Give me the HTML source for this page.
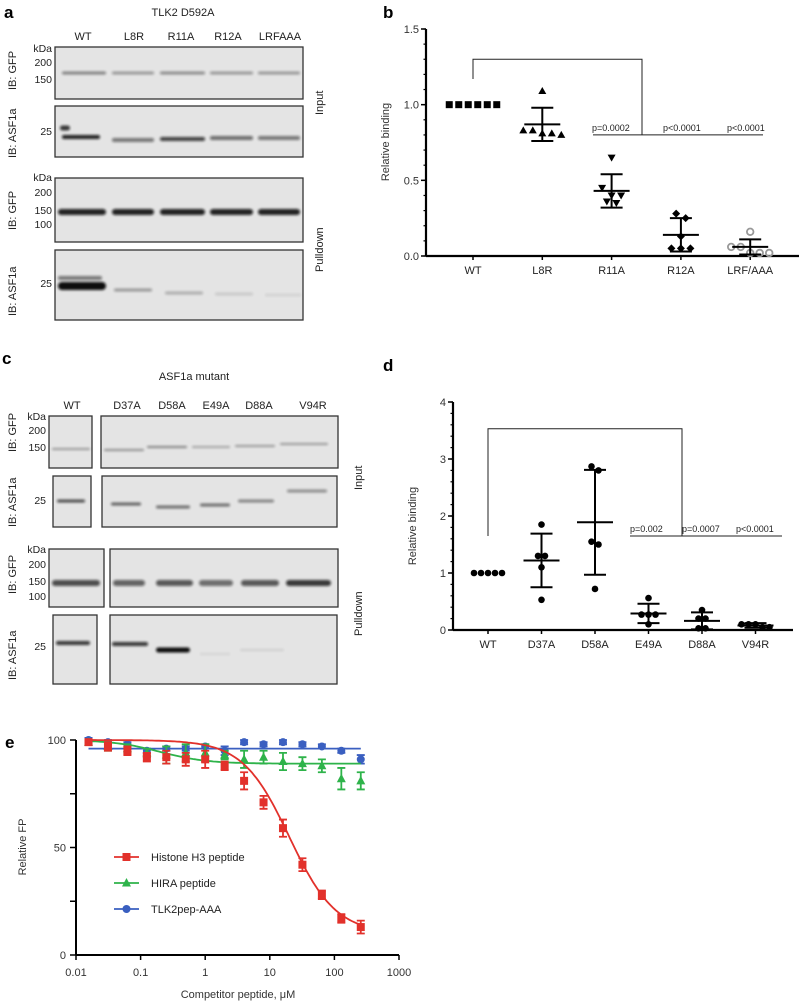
<!DOCTYPE html>
<html><head><meta charset="utf-8">
<style>
html,body{margin:0;padding:0;background:#fff;}
svg{display:block;font-family:"Liberation Sans",Arial,sans-serif;}
</style></head>
<body>
<svg id="fig" width="799" height="1001" viewBox="0 0 799 1001" xmlns="http://www.w3.org/2000/svg">
<defs>
<filter id="blur1" x="-20%" y="-200%" width="140%" height="500%"><feGaussianBlur stdDeviation="1.2"/></filter>
</defs>
<text x="4" y="18" font-size="17" font-weight="bold">a</text>
<text x="383" y="18" font-size="17" font-weight="bold">b</text>
<text x="2" y="364" font-size="17" font-weight="bold">c</text>
<text x="383" y="371" font-size="17" font-weight="bold">d</text>
<text x="5" y="748" font-size="17" font-weight="bold">e</text>

<g id="blotA"></g>
<g id="blotC"></g>
<g id="chartB"></g>
<g id="chartD"></g>
<g id="chartE"></g>
</svg>
<script>
// ---------- data: panel b ----------
const bCategories = ["WT","L8R","R11A","R12A","LRF/AAA"];
const bPoints = [[1,1,1,1,1,1],[1.09,0.81,0.83,0.80,0.83,0.81],[0.65,0.45,0.40,0.40,0.35,0.36],[0.28,0.25,0.13,0.05,0.05,0.05],[0.16,0.06,0.06,0.02,0.02,0.02]];
const bMeans = [1.0,0.87,0.43,0.14,0.06];
const bSD = [0,0.11,0.11,0.11,0.05];
const bTicks = [0,0.5,1.0,1.5];
const bTickLabels = ["0.0","0.5","1.0","1.5"];
const bPvals = ["p=0.0002","p<0.0001","p<0.0001"];
// ---------- data: panel d ----------
const dCategories = ["WT","D37A","D58A","E49A","D88A","V94R"];
const dPoints = [[1,1,1,1,1],[1.85,1.3,1.3,1.1,0.53],[2.87,2.8,1.55,1.5,0.72],[0.56,0.27,0.27,0.27,0.1],[0.35,0.2,0.2,0.03,0.03],[0.1,0.1,0.1,0.05,0.05]];
const dMeans = [1.0,1.22,1.89,0.29,0.16,0.08];
const dSD = [0,0.47,0.92,0.17,0.15,0.04];
const dTicks = [0,1,2,3,4];
const dPvals = ["p=0.002","p=0.0007","p<0.0001"];
// ---------- data: panel e ----------
const eConc = [0.015625,0.03125,0.0625,0.125,0.25,0.5,1,2,4,8,16,32,64,128,256];
const eH3 = [99,97,95,92,92,91,91,88,81,71,59,42,28,17,13];
const eH3Err = [1,2,2,2,3,3,4,2,4,3,4,3,2,2,3];
const eHIRA = [99,97,96,94,93,94,94,93,91,92,90,89,88,82,81];
const eHIRAErr = [1,2,2,2,4,4,4,2,4,3,4,3,3,5,4];
const eTLK = [100,99,98,95,96,96,97,95,99,98,99,98,97,95,91];
const eTLKErr = [1,1,1,1,1,1,1,2,1,1,1,1,1,1,2];
const eXTicks = [0.01,0.1,1,10,100,1000];
const eXTickLabels = ["0.01","0.1","1","10","100","1000"];
const eYTicks = [0,25,50,75,100];
const eFitH3 = [100,10,20,1.2];
const eFitHIRA = [100,89,0.2,1.2];
const eFitTLK = [96,96,1,1];

const NS="http://www.w3.org/2000/svg";
function mk(parent,tag,attrs,text){const e=document.createElementNS(NS,tag);for(const k in attrs)e.setAttribute(k,attrs[k]);if(text!==undefined)e.textContent=text;parent.appendChild(e);return e;}

function blotBox(g,x,y,w,h){const r=mk(g,'rect',{x:x,y:y,width:w,height:h,fill:'#e4e4e4',stroke:'#333','stroke-width':1.3});

}
function band(g,x,y,w,h,op){const e=mk(g,'rect',{x:x,y:y-h/2,width:w,height:h,rx:h/2,fill:'#111',opacity:op,filter:'url(#blur1)'});

}
function txt(g,x,y,s,size,anchor,name,rot){const a={x:x,y:y,'font-size':size,'text-anchor':anchor||'start',fill:'#222'};if(rot)a.transform='rotate(-90 '+x+' '+y+')';const t=mk(g,'text',a,s);

return t;}

(function(){
const g=document.getElementById('blotA');
txt(g,183,16,'TLK2 D592A',11,'middle','blot-title-a');
const lanes=[{n:'WT',x:83},{n:'L8R',x:134},{n:'R11A',x:181},{n:'R12A',x:228},{n:'LRFAAA',x:280}];
lanes.forEach(l=>txt(g,l.x,40,l.n,11,'middle','lane-label'));
blotBox(g,55,47,248,52);blotBox(g,55,106,248,51);blotBox(g,55,178,248,64);blotBox(g,55,250,248,70);
txt(g,52,52,'kDa',10.5,'end','kda-label');txt(g,52,66,'200',10.5,'end','mw-200');txt(g,52,83,'150',10.5,'end','mw-150');
txt(g,52,135,'25',10.5,'end','mw-25');
txt(g,52,181,'kDa',10.5,'end','kda-label');txt(g,52,196,'200',10.5,'end','mw-200');txt(g,52,214,'150',10.5,'end','mw-150');txt(g,52,228,'100',10.5,'end','mw-100');
txt(g,52,287,'25',10.5,'end','mw-25');
txt(g,16,90,'IB: GFP',11,'start','ib-gfp-label',true);txt(g,16,158,'IB: ASF1a',11,'start','ib-asf1a-label',true);
txt(g,16,230,'IB: GFP',11,'start','ib-gfp-label',true);txt(g,16,316,'IB: ASF1a',11,'start','ib-asf1a-label',true);
txt(g,323,115,'Input',11,'start','input-label',true);txt(g,323,272,'Pulldown',11,'start','pulldown-label',true);
[[62,44,.45],[112,42,.35],[160,45,.4],[210,43,.35],[258,42,.35]].forEach(b=>band(g,b[0],73,b[1],3,b[2]));
[[62,38,.9,137],[112,42,.5,140],[160,45,.75,139],[210,43,.55,138],[258,42,.5,138]].forEach(b=>band(g,b[0],b[3],b[1],4,b[2]));
band(g,60,128,10,5,.8);
[[58,48],[112,42],[160,45],[210,43],[258,42]].forEach(b=>band(g,b[0],212,b[1],6,.9));
band(g,58,286,48,8,1);band(g,58,278,44,4,.5);
[[114,38,.35,290],[165,38,.25,293],[215,38,.12,294],[265,36,.08,295]].forEach(b=>band(g,b[0],b[3],b[1],3,b[2]));
})();
(function(){
const g=document.getElementById('blotC');
txt(g,194,380,'ASF1a mutant',11,'middle','blot-title-c');
[['WT',72],['D37A',127],['D58A',172],['E49A',216],['D88A',259],['V94R',313]].forEach(l=>txt(g,l[1],409,l[0],11,'middle','lane-label'));
blotBox(g,49,416,43,52);blotBox(g,101,416,237,52);
blotBox(g,53,476,38,51);blotBox(g,102,476,235,51);
blotBox(g,49,549,55,58);blotBox(g,110,549,228,58);
blotBox(g,53,615,44,69);blotBox(g,110,615,227,69);
txt(g,46,420,'kDa',10.5,'end','kda-label');txt(g,46,434,'200',10.5,'end','mw-200');txt(g,46,451,'150',10.5,'end','mw-150');
txt(g,46,504,'25',10.5,'end','mw-25');
txt(g,46,553,'kDa',10.5,'end','kda-label');txt(g,46,568,'200',10.5,'end','mw-200');txt(g,46,585,'150',10.5,'end','mw-150');txt(g,46,600,'100',10.5,'end','mw-100');
txt(g,46,650,'25',10.5,'end','mw-25');
txt(g,16,452,'IB: GFP',11,'start','ib-gfp-label',true);txt(g,16,527,'IB: ASF1a',11,'start','ib-asf1a-label',true);
txt(g,16,594,'IB: GFP',11,'start','ib-gfp-label',true);txt(g,16,680,'IB: ASF1a',11,'start','ib-asf1a-label',true);
txt(g,362,490,'Input',11,'start','input-label',true);txt(g,362,636,'Pulldown',11,'start','pulldown-label',true);
band(g,52,449,38,2,.35);[[104,40,.4,450],[147,40,.45,447],[192,38,.3,447],[235,40,.35,446],[280,48,.35,444]].forEach(b=>band(g,b[0],b[3],b[1],2,b[2]));
band(g,57,501,28,3,.7);[[111,30,.6,504],[156,34,.55,507],[200,30,.55,505],[238,36,.45,501],[287,40,.4,491]].forEach(b=>band(g,b[0],b[3],b[1],3,b[2]));
band(g,52,583,48,6,.7);[[113,32,.6],[156,37,.65],[199,34,.55],[241,38,.65],[286,45,.8]].forEach(b=>band(g,b[0],583,b[1],6,b[2]));
band(g,56,643,34,4,.8);band(g,112,644,36,4,.8);band(g,156,650,34,5,1);band(g,200,654,30,2,.08);band(g,240,650,44,2,.1);
})();

function dotPlot(g,cfg){
  const y=v=>cfg.y0-(v-cfg.vmin)/(cfg.vmax-cfg.vmin)*(cfg.y0-cfg.y1);
  const x=i=>cfg.xs0+i*cfg.dx;
  let l=mk(g,'line',{x1:cfg.ax,y1:cfg.y1,x2:cfg.ax,y2:cfg.y0,stroke:'#000','stroke-width':2.2});
  
  
  l=mk(g,'line',{x1:cfg.ax,y1:cfg.y0,x2:cfg.xend,y2:cfg.y0,stroke:'#000','stroke-width':2.2});
  
  
  for(let v=cfg.vmin;v<=cfg.vmax+1e-9;v+=cfg.minor){mk(g,'line',{x1:cfg.ax-2.5,y1:y(v),x2:cfg.ax,y2:y(v),stroke:'#000','stroke-width':1.2});}
  cfg.ticks.forEach((t,i)=>{mk(g,'line',{x1:cfg.ax-5,y1:y(t),x2:cfg.ax,y2:y(t),stroke:'#000','stroke-width':1.5});
    const tl=mk(g,'text',{x:cfg.ax-7,y:y(t)+4,'font-size':11,'text-anchor':'end',fill:'#333'},cfg.tickLabels[i]);
    
    });
  const yt=mk(g,'text',{x:cfg.ytx,y:cfg.yty,'font-size':11,'text-anchor':'middle',fill:'#333',transform:'rotate(-90 '+cfg.ytx+' '+cfg.yty+')'},'Relative binding');
  
  
  cfg.cats.forEach((c,i)=>{
    mk(g,'line',{x1:x(i),y1:cfg.y0,x2:x(i),y2:cfg.y0+4,stroke:'#000','stroke-width':1.5});
    const t=mk(g,'text',{x:x(i),y:cfg.y0+18,'font-size':11,'text-anchor':'middle',fill:'#222'},c);
    
    
    const grp=mk(g,'g',{});
    
    
    const sorted=cfg.points[i].slice().sort((a,b)=>b-a);
    const bins=[];
    sorted.forEach(v=>{const last=bins[bins.length-1];
      if(last&&Math.abs(y(last[0])-y(v))<cfg.binPx)last.push(v);else bins.push([v]);});
    bins.forEach(bin=>{const n=bin.length;
      bin.forEach((v,j)=>{
        const px=x(i)+(j-(n-1)/2)*cfg.spread, py=y(v);
        const m=cfg.marker(i,grp,px,py);
        
        
      });});
    if(cfg.sd[i]>0){
      const m=cfg.means[i],s=cfg.sd[i];
      mk(grp,'line',{x1:x(i),y1:y(m+s),x2:x(i),y2:y(Math.max(m-s,cfg.vmin)),stroke:'#000','stroke-width':2});
      mk(grp,'line',{x1:x(i)-11,y1:y(m+s),x2:x(i)+11,y2:y(m+s),stroke:'#000','stroke-width':2});
      mk(grp,'line',{x1:x(i)-11,y1:y(m-s),x2:x(i)+11,y2:y(m-s),stroke:'#000','stroke-width':2});
      mk(grp,'line',{x1:x(i)-18,y1:y(m),x2:x(i)+18,y2:y(m),stroke:'#000','stroke-width':2});
    }
  });
  const br=cfg.bracket;
  const p=mk(g,'polyline',{points:`${x(0)},${y(br.start)} ${x(0)},${y(br.top)} ${br.xr},${y(br.top)} ${br.xr},${y(br.base)}`,fill:'none',stroke:'#222','stroke-width':1});
  
  
  const hl=mk(g,'line',{x1:br.hx1,y1:y(br.base),x2:br.hx2,y2:y(br.base),stroke:'#222','stroke-width':1});
  
  
  cfg.pvals.forEach((s,i)=>{const t=mk(g,'text',{x:br.px[i],y:y(br.base)-4,'font-size':9,'text-anchor':'start',fill:'#222'},s);
    
    });
}
dotPlot(document.getElementById('chartB'),{
  ax:426,y0:256,y1:29,vmin:0,vmax:1.5,minor:0.1,xend:799,xs0:473,dx:69.3,binPx:8,
  ticks:bTicks,tickLabels:bTickLabels,ytx:389,yty:142,cats:bCategories,points:bPoints,means:bMeans,sd:bSD,spread:9.5,
  pvals:bPvals,
  bracket:{start:1.17,top:1.3,base:0.8,xr:642,hx1:593,hx2:763,px:[592,663,727]},
  marker:(i,g,px,py)=>{
    if(i===0)return mk(g,'rect',{x:px-3.5,y:py-3.5,width:7,height:7,fill:'#000'});
    if(i===1)return mk(g,'path',{d:`M${px},${py-4}L${px+4},${py+3}L${px-4},${py+3}Z`,fill:'#000'});
    if(i===2)return mk(g,'path',{d:`M${px},${py+4}L${px+4},${py-3}L${px-4},${py-3}Z`,fill:'#000'});
    if(i===3)return mk(g,'path',{d:`M${px},${py-4}L${px+4},${py}L${px},${py+4}L${px-4},${py}Z`,fill:'#000'});
    return mk(g,'circle',{cx:px,cy:py,r:3.3,fill:'none',stroke:'#999','stroke-width':1.8});
  }
});
dotPlot(document.getElementById('chartD'),{
  ax:453,y0:630,y1:402,vmin:0,vmax:4,minor:0.2,xend:793,xs0:488,dx:53.5,binPx:7,
  ticks:dTicks,tickLabels:dTicks.map(String),ytx:416,yty:526,cats:dCategories,points:dPoints,means:dMeans,sd:dSD,spread:7,
  pvals:dPvals,
  bracket:{start:1.65,top:3.53,base:1.65,xr:682,hx1:630,hx2:782,px:[630,682,736]},
  marker:(i,g,px,py)=>mk(g,'circle',{cx:px,cy:py,r:3.3,fill:'#000'})
});

(function(){
  const g=document.getElementById('chartE');
  const X0=76,X1=399,Y0=955,Y1=740;
  const xs=c=>X0+(Math.log10(c)+2)/5*(X1-X0);
  const ys=v=>Y0-v/100*(Y0-Y1);
  let l=mk(g,'line',{x1:X0,y1:Y1,x2:X0,y2:Y0,stroke:'#000','stroke-width':2});
  
  
  l=mk(g,'line',{x1:X0,y1:Y0,x2:X1,y2:Y0,stroke:'#000','stroke-width':2});
  
  
  eYTicks.forEach(t=>{mk(g,'line',{x1:X0-6,y1:ys(t),x2:X0,y2:ys(t),stroke:'#000','stroke-width':1.5});
    if(t%50===0){const tl=mk(g,'text',{x:X0-10,y:ys(t)+4,'font-size':11,'text-anchor':'end',fill:'#333'},String(t));
    
    }});
  eXTicks.forEach((t,i)=>{mk(g,'line',{x1:xs(t),y1:Y0,x2:xs(t),y2:Y0+5,stroke:'#000','stroke-width':1.5});
    const tl=mk(g,'text',{x:xs(t),y:Y0+21,'font-size':11,'text-anchor':'middle',fill:'#333'},eXTickLabels[i]);
    
    });
  let t=mk(g,'text',{x:238,y:998,'font-size':11,'text-anchor':'middle',fill:'#333'},'Competitor peptide, μM');
  
  
  t=mk(g,'text',{x:26,y:847,'font-size':11,'text-anchor':'middle',fill:'#333',transform:'rotate(-90 26 847)'},'Relative FP');
  
  
  const series=[
    {name:'tlk2pep-aaa',vals:eTLK,err:eTLKErr,fit:eFitTLK,col:'#3a5fc0',m:'c'},
    {name:'hira',vals:eHIRA,err:eHIRAErr,fit:eFitHIRA,col:'#2eb34a',m:'t'},
    {name:'histone-h3',vals:eH3,err:eH3Err,fit:eFitH3,col:'#e2312b',m:'s'}
  ];
  function marker(gg,m,px,py,col){
    if(m==='s')return mk(gg,'rect',{x:px-4,y:py-4,width:8,height:8,fill:col});
    if(m==='t')return mk(gg,'path',{d:`M${px},${py-5}L${px+4.5},${py+3.5}L${px-4.5},${py+3.5}Z`,fill:col});
    return mk(gg,'circle',{cx:px,cy:py,r:4,fill:col});
  }
  series.forEach(s=>{
    const gg=mk(g,'g',{});
    
    
    const f=s.fit;let d='';
    for(let k=0;k<=120;k++){const lc=Math.log10(eConc[0])+k/120*(Math.log10(eConc[eConc.length-1])-Math.log10(eConc[0]));const c=Math.pow(10,lc);
      const v=f[1]+(f[0]-f[1])/(1+Math.pow(c/f[2],f[3]));d+=(k?'L':'M')+xs(c).toFixed(1)+','+ys(v).toFixed(1);}
    const fp=mk(gg,'path',{d:d,fill:'none',stroke:s.col,'stroke-width':1.8});
    
    
    eConc.forEach((c,i)=>{
      const px=xs(c),v=s.vals[i],e=s.err[i];
      mk(gg,'path',{d:`M${px},${ys(v+e)}V${ys(v-e)}M${px-4},${ys(v+e)}H${px+4}M${px-4},${ys(v-e)}H${px+4}`,stroke:s.col,'stroke-width':1.8,fill:'none'});
      const m=marker(gg,s.m,px,ys(v),s.col);
      
      
    });
  });
  const leg=[['Histone H3 peptide','#e2312b','s',857],['HIRA peptide','#2eb34a','t',883],['TLK2pep-AAA','#3a5fc0','c',909]];
  leg.forEach(L=>{
    const gg=mk(g,'g',{});
    
    
    mk(gg,'line',{x1:114,y1:L[3],x2:139,y2:L[3],stroke:L[1],'stroke-width':1.8});
    marker(gg,L[2],126.5,L[3],L[1]);
    mk(gg,'text',{x:151,y:L[3]+4,'font-size':11,fill:'#222'},L[0]);
  });
})();
</script>
</body></html>
